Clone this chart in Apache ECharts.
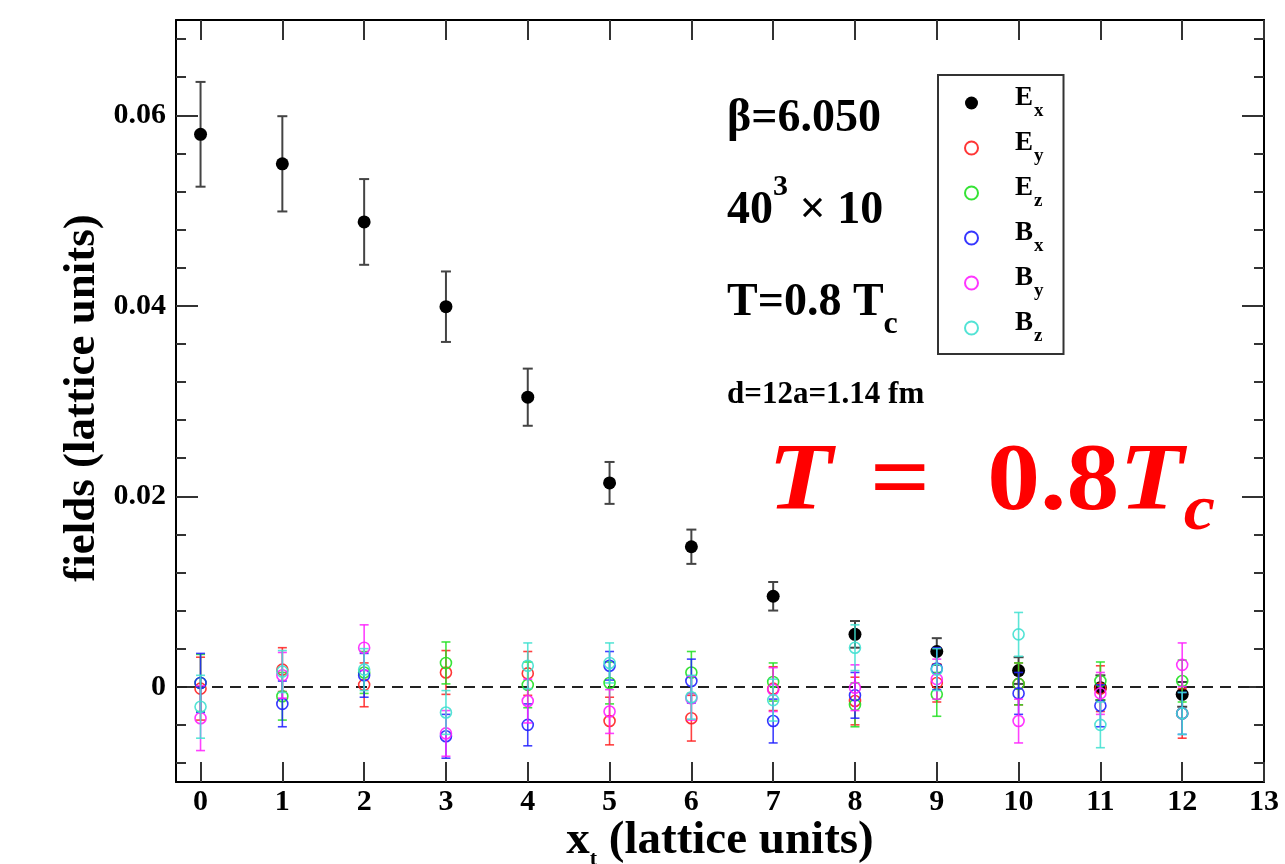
<!DOCTYPE html>
<html>
<head>
<meta charset="utf-8">
<script src="https://cdn.jsdelivr.net/npm/echarts@6/dist/echarts.min.js"></script>
<style>html,body{margin:0;padding:0;background:#fff}#c{width:1285px;height:864px}</style>
</head>
<body>
<div id="c"></div>
<script>
// ---------- data ----------
const xs = [0, 1, 2, 3, 4, 5, 6, 7, 8, 9, 10, 11, 12];
const Ex    = [0.0580, 0.0549, 0.0488, 0.0399, 0.0304, 0.0214, 0.0147, 0.0095, 0.0055, 0.0037, 0.0017, -0.0001, -0.0008];
const ExErr = [0.0055, 0.0050, 0.0045, 0.0037, 0.0030, 0.0022, 0.0018, 0.0015, 0.0014, 0.0014, 0.0014, 0.0013, 0.0013];
const Ey    = [-0.0002, 0.0018, 0.0002, 0.0015, 0.0014, -0.0036, -0.0033, -0.0002, -0.0015, 0.0004, 0.0003, -0.0002, -0.0028];
const EyErr = [0.0033, 0.0023, 0.0023, 0.0023, 0.0023, 0.0025, 0.0024, 0.0023, 0.0025, 0.0020, 0.0022, 0.0024, 0.0026];
const Ez    = [0.0004, -0.0010, 0.0015, 0.0025, 0.0002, 0.0004, 0.0015, 0.0005, -0.0019, -0.0008, 0.0003, 0.0006, 0.0006];
const EzErr = [0.0030, 0.0025, 0.0022, 0.0022, 0.0024, 0.0022, 0.0022, 0.0020, 0.0023, 0.0023, 0.0022, 0.0020, 0.0022];
const Bx    = [0.0004, -0.0018, 0.0012, -0.0052, -0.0040, 0.0022, 0.0006, -0.0036, -0.0009, 0.0019, -0.0007, -0.0020, -0.0028];
const BxErr = [0.0031, 0.0024, 0.0023, 0.0023, 0.0022, 0.0015, 0.0023, 0.0023, 0.0024, 0.0022, 0.0022, 0.0022, 0.0022];
const By    = [-0.0033, 0.0012, 0.0041, -0.0049, -0.0015, -0.0026, -0.0012, -0.0003, -0.0001, 0.0008, -0.0036, -0.0007, 0.0023];
const ByErr = [0.0034, 0.0024, 0.0024, 0.0024, 0.0023, 0.0023, 0.0023, 0.0023, 0.0024, 0.0021, 0.0023, 0.0022, 0.0023];
const Bz    = [-0.0021, 0.0016, 0.0018, -0.0027, 0.0022, 0.0025, -0.0011, -0.0014, 0.0041, 0.0018, 0.0055, -0.0040, -0.0028];
const BzErr = [0.0033, 0.0022, 0.0022, 0.0023, 0.0024, 0.0021, 0.0023, 0.0022, 0.0024, 0.0022, 0.0023, 0.0024, 0.0022];

const xTicks = [0, 1, 2, 3, 4, 5, 6, 7, 8, 9, 10, 11, 12, 13];
const yTicks = [0, 0.02, 0.04, 0.06];
const yMinorTicks = [-0.008, -0.004, 0.004, 0.008, 0.012, 0.016, 0.024, 0.028, 0.032, 0.036,
                     0.044, 0.048, 0.052, 0.056, 0.064, 0.068];

// ---------- styling ----------
const FONT = '"Liberation Serif", "DejaVu Serif", serif';
const sets = [
  {name: 'Ex', vals: Ex, errs: ExErr, color: '#000000', filled: true},
  {name: 'Ey', vals: Ey, errs: EyErr, color: '#ff2020'},
  {name: 'Ez', vals: Ez, errs: EzErr, color: '#20e020'},
  {name: 'Bx', vals: Bx, errs: BxErr, color: '#2020ff'},
  {name: 'By', vals: By, errs: ByErr, color: '#ff20ff'},
  {name: 'Bz', vals: Bz, errs: BzErr, color: '#40e0d0'}
];

const series = [];
sets.forEach((s, k) => {
  const barColor = s.filled ? '#444' : s.color;
  const cap = s.filled ? 5 : 4.5;
  series.push({
    type: 'custom',
    name: s.name + ' err',
    xAxisIndex: 0, yAxisIndex: 0,
    data: xs.map((x, i) => [x, s.vals[i], s.errs[i]]),
    encode: {x: 0, y: 1},
    z: 2 + k * 2,
    renderItem: function (params, api) {
      const x = api.value(0), y = api.value(1), e = api.value(2);
      const hi = api.coord([x, y + e]);
      const lo = api.coord([x, y - e]);
      const st = {stroke: barColor, lineWidth: s.filled ? 2 : 1.6, opacity: s.filled ? 1 : 0.85};
      return {
        type: 'group',
        children: [
          {type: 'line', shape: {x1: hi[0], y1: hi[1], x2: lo[0], y2: lo[1]}, style: st},
          {type: 'line', shape: {x1: hi[0] - cap, y1: hi[1], x2: hi[0] + cap, y2: hi[1]}, style: st},
          {type: 'line', shape: {x1: lo[0] - cap, y1: lo[1], x2: lo[0] + cap, y2: lo[1]}, style: st}
        ]
      };
    }
  });
  const sc = {
    type: 'scatter',
    name: s.name,
    xAxisIndex: 0, yAxisIndex: 0,
    data: xs.map((x, i) => [x, s.vals[i]]),
    symbol: 'circle',
    symbolSize: s.filled ? 13 : 11,
    z: 3 + k * 2,
    itemStyle: s.filled
      ? {color: '#000', opacity: 1}
      : {color: 'rgba(255,255,255,0)', borderColor: s.color, borderWidth: 1.6, opacity: 0.9}
  };
  if (k === 0) {
    sc.markLine = {
      silent: true,
      symbol: ['none', 'none'],
      label: {show: false},
      lineStyle: {color: '#222', width: 2, type: [11, 7], opacity: 1},
      data: [{yAxis: 0}],
      z: 1
    };
  }
  series.push(sc);
});

const axisLineStyle = {color: '#000', width: 2};
const tickStyle = {color: '#333', width: 2};

const option = {
  animation: false,
  backgroundColor: '#fff',
  grid: {left: 176, right: 21, top: 20, bottom: 82, containLabel: false},
  xAxis: [
    {
      type: 'value', min: -0.3, max: 13, position: 'bottom',
      axisLine: {show: true, onZero: false, lineStyle: axisLineStyle},
      axisTick: {show: true, inside: true, length: 20, customValues: xTicks, lineStyle: tickStyle},
      axisLabel: {show: true, customValues: xTicks, margin: 5, color: '#000',
        fontFamily: FONT, fontWeight: 'bold', fontSize: 30},
      splitLine: {show: false}
    },
    {
      type: 'value', min: -0.3, max: 13, position: 'top',
      axisLine: {show: true, onZero: false, lineStyle: axisLineStyle},
      axisTick: {show: true, inside: true, length: 20, customValues: xTicks, lineStyle: tickStyle},
      axisLabel: {show: false},
      splitLine: {show: false}
    }
  ],
  yAxis: [
    {
      type: 'value', min: -0.01, max: 0.07, position: 'left',
      axisLine: {show: true, onZero: false, lineStyle: axisLineStyle},
      axisTick: {show: true, inside: true, length: 22, customValues: yTicks, lineStyle: tickStyle},
      axisLabel: {show: true, customValues: yTicks, margin: 10, color: '#000',
        fontFamily: FONT, fontWeight: 'bold', fontSize: 30,
        formatter: v => (Math.abs(v) < 1e-12 ? '0' : v.toFixed(2))},
      splitLine: {show: false}
    },
    {
      type: 'value', min: -0.01, max: 0.07, position: 'left',
      axisLine: {show: false, onZero: false},
      axisTick: {show: true, inside: true, length: 10, customValues: yMinorTicks, lineStyle: tickStyle},
      axisLabel: {show: false},
      splitLine: {show: false}
    },
    {
      type: 'value', min: -0.01, max: 0.07, position: 'right',
      axisLine: {show: true, onZero: false, lineStyle: axisLineStyle},
      axisTick: {show: true, inside: true, length: 22, customValues: yTicks, lineStyle: tickStyle},
      axisLabel: {show: false},
      splitLine: {show: false}
    },
    {
      type: 'value', min: -0.01, max: 0.07, position: 'right',
      axisLine: {show: false, onZero: false},
      axisTick: {show: true, inside: true, length: 10, customValues: yMinorTicks, lineStyle: tickStyle},
      axisLabel: {show: false},
      splitLine: {show: false}
    }
  ],
  legend: {
    data: sets.map(s => s.name),
    orient: 'vertical',
    left: 938, top: 75,
    padding: [10, 20, 8, 26],
    itemWidth: 13, itemHeight: 13,
    itemGap: 9,
    borderColor: '#333', borderWidth: 2, backgroundColor: '#fff',
    selectedMode: false,
    formatter: name => '{b|' + name[0] + '}{s|' + name[1] + '}',
    textStyle: {
      color: '#000',
      rich: {
        b: {fontFamily: FONT, fontWeight: 'bold', fontSize: 27, color: '#000',
            verticalAlign: 'bottom', padding: [0, 0, 9, 32]},
        s: {fontFamily: FONT, fontWeight: 'bold', fontSize: 19, color: '#000',
            verticalAlign: 'bottom', padding: [0, 0, 0, 1]}
      }
    }
  },
  graphic: [
    {type: 'text', x: 727, y: 96, silent: true,
     style: {text: 'β=6.050', fontFamily: FONT, fontWeight: 'bold', fontSize: 46, fill: '#000'}},
    {type: 'text', x: 727, y: 172, silent: true,
     style: {text: '{n|40}{p|3}{n| × 10}', fill: '#000',
       rich: {
         n: {fontFamily: FONT, fontWeight: 'bold', fontSize: 46, verticalAlign: 'top', padding: [16, 0, 0, 0]},
         p: {fontFamily: FONT, fontWeight: 'bold', fontSize: 30, verticalAlign: 'top'}
       }}},
    {type: 'text', x: 727, y: 280, silent: true,
     style: {text: '{n|T=0.8 T}{c|c}', fill: '#000',
       rich: {
         n: {fontFamily: FONT, fontWeight: 'bold', fontSize: 46, verticalAlign: 'bottom', padding: [0, 0, 15, 0]},
         c: {fontFamily: FONT, fontWeight: 'bold', fontSize: 32, verticalAlign: 'bottom'}
       }}},
    {type: 'text', x: 727, y: 379, silent: true,
     style: {text: 'd=12a=1.14 fm', fontFamily: FONT, fontWeight: 'bold', fontSize: 31, fill: '#000'}},
    {type: 'text', x: 768, y: 436, scaleX: 1.1, silent: true,
     style: {text: '{t|T}{e|=}{n|0.8}{t2|T}{c|c}', fill: '#ff0000',
       rich: {
         t: {fontFamily: FONT, fontWeight: 'bold', fontStyle: 'italic', fontSize: 96, color: '#ff0000',
             verticalAlign: 'bottom', padding: [0, 0, 12, 0]},
         e: {fontFamily: FONT, fontWeight: 'bold', fontSize: 96, color: '#ff0000',
             verticalAlign: 'bottom', padding: [0, 52, 12, 34]},
         n: {fontFamily: FONT, fontWeight: 'bold', fontSize: 96, color: '#ff0000',
             verticalAlign: 'bottom', padding: [0, 0, 12, 0]},
         t2: {fontFamily: FONT, fontWeight: 'bold', fontStyle: 'italic', fontSize: 96, color: '#ff0000',
             verticalAlign: 'bottom', padding: [0, 0, 12, 0]},
         c: {fontFamily: FONT, fontWeight: 'bold', fontStyle: 'italic', fontSize: 64, color: '#ff0000',
             verticalAlign: 'bottom'}
       }}},
    {type: 'text', x: 82, y: 398, rotation: Math.PI / 2, silent: true,
     style: {text: 'fields (lattice units)', fontFamily: FONT, fontWeight: 'bold', fontSize: 45,
       fill: '#000', align: 'center', verticalAlign: 'middle'}},
    {type: 'text', x: 720, y: 817, silent: true,
     style: {text: '{a|x}{s|t}{a| (lattice units)}', fill: '#000', align: 'center',
       rich: {
         a: {fontFamily: FONT, fontWeight: 'bold', fontSize: 47, verticalAlign: 'bottom', padding: [0, 0, 6, 0]},
         s: {fontFamily: FONT, fontWeight: 'bold', fontSize: 22, verticalAlign: 'bottom'}
       }}}
  ],
  series: series
};

const chart = echarts.init(document.getElementById('c'), null, {renderer: 'canvas'});
chart.setOption(option);
</script>
</body>
</html>
